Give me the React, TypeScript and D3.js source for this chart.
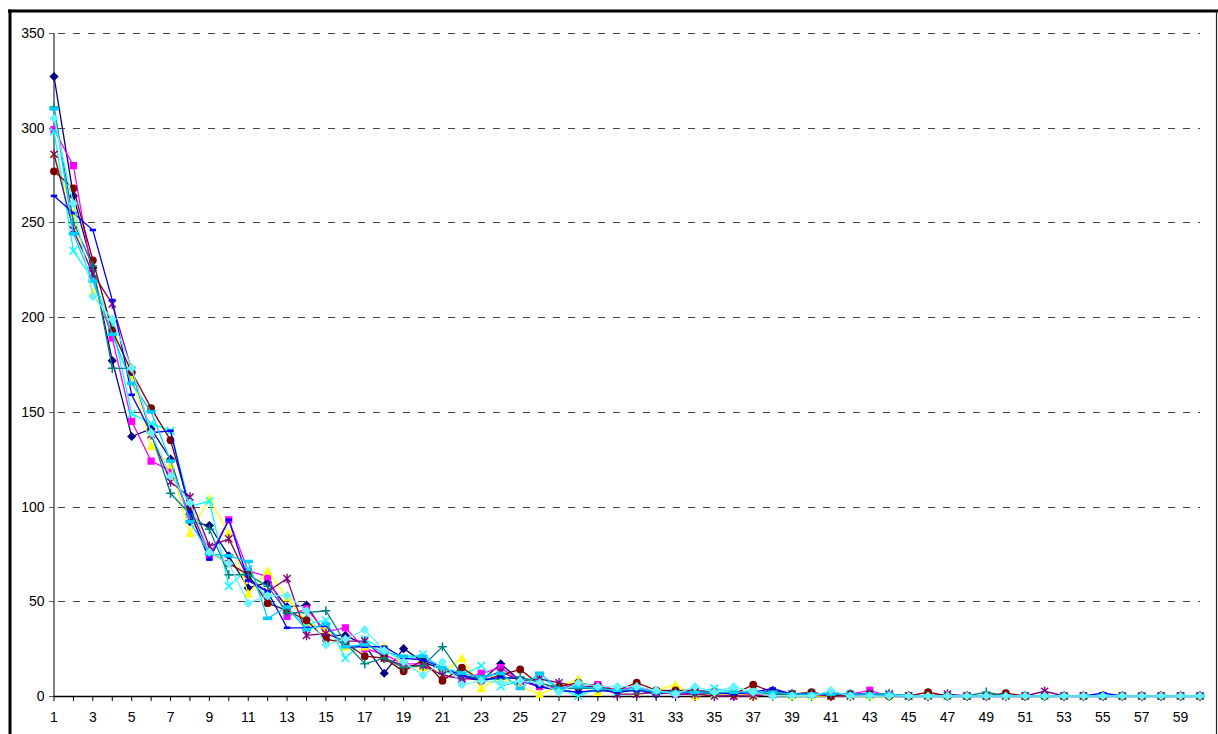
import React from "react";
import * as d3 from "d3";

const categories: number[] = d3.range(1, 61);
const yTicks: number[] = [0, 50, 100, 150, 200, 250, 300, 350];

const s1 = [327,264,226,177,137,141,125,92,90,74, 57,60,47,48,32,32,27,12,25,18, 14,10,8,17,8,5,3,2,3,2, 3,1,2,1,1,1,1,3,1,1, 0,1,1,0,0,0,0,0,0,0, 0,0,0,0,0,0,0,0,0,0];
const s2 = [299,280,220,189,145,124,119,96,74,93, 66,63,42,46,34,36,25,22,17,17, 11,9,12,15,8,5,4,6,6,3, 5,2,1,1,1,0,1,1,1,1, 0,1,3,0,0,0,0,0,0,0, 0,0,0,0,0,0,0,0,0,0];
const s3 = [286,255,213,195,169,132,122,86,104,86, 54,66,52,39,35,26,26,26,16,15, 12,20,4,10,5,1,5,9,2,3, 2,3,6,0,1,1,0,1,0,0, 0,0,0,0,0,0,0,0,0,0, 0,0,0,0,0,0,0,0,0,0];
const s4 = [298,235,220,196,149,144,140,100,103,58, 67,50,45,38,40,20,30,24,19,22, 13,11,16,5,8,10,4,0,4,2, 3,2,2,2,4,2,2,1,1,1, 1,1,1,1,0,0,0,0,0,0, 0,0,0,0,0,0,0,0,0,0];
const s5 = [286,246,223,207,172,138,113,105,79,83, 62,55,62,32,33,29,29,20,16,16, 11,9,9,13,8,9,7,5,5,1, 1,2,1,1,0,0,0,1,1,1, 0,0,1,1,0,0,1,0,0,0, 0,2.5,0,0,0,0,0,0,0,0];
const s6 = [277,268,230,193,171,152,135,99,76,70, 64,49,45,40,30,28,21,20,13,19, 8,15,8,11,14,6,5,7,5,3, 7,3,3,3,2,1,6,2,1,2, 0,1,1,0,0,2,0,0,0,1.5, 0,0,0,0,0,0,0,0,0,0];
const s7 = [311,250,227,173,173,139,107,96,88,64, 64,58,44,44,45,28,17,20,15,16, 26,11,9,9,10,7,4,4,4,3, 3,2,2,2,1,2,2,1,1,1, 1,1,1,1,0,0,0,0,2,0, 0,0,0,0,0,0,0,0,0,0];
const s8 = [264,255,246,209,159,139,140,97,72,93, 61,55,36,36,37,26,26,26,20,19, 15,11,8,10,9,5,3,2,3,2, 3,2,2,2,2,1,2,4,1,1, 1,1,1,0,0,0,0,0,0,0, 0,0,0,0,1.5,0,0,0,0,0];
const s9 = [310,244,219,191,165,150,124,92,75,74, 71,41,47,35,38,26,27,23,21,21, 15,12,10,12,4,12,4,5,4,3, 4,2,2,2,2,2,2,2,1,1, 1,1,1,1,0,0,0,0,0,0, 0,0,0,0,0,0,0,0,0,0];
const s10 = [305,260,211,199,173,139,116,102,76,70, 49,53,53,45,27,30,35,24,18,11, 18,6,8,7,8,7,2,7,5,5, 5,3,1,5,2,5,2,0,0,0, 3,0,0,0,0,0,0,0,0,0, 0,0,0,0,0,0,0,0,0,0];

const seriesValues = [s1, s2, s3, s4, s5, s6, s7, s8, s9, s10];
const seriesColors = ["#000080", "#FF00FF", "#FFFF00", "#00FFFF", "#800080", "#800000", "#008080", "#0000FF", "#00CCFF", "#66F2FF"];
const seriesMarkers = ["diamond", "square", "triangle", "x", "star", "circle", "plus", "dash", "bar", "diamond"];

const W = 1218;
const H = 734;
const plotLeft = 54;
const plotRight = 1200;
const plotTop = 33;
const plotBottom = 696;
const font = "'Liberation Sans', Arial, sans-serif";

function Marker({ type, color, x, y }: { type: string; color: string; x: number; y: number }) {
  const t = `translate(${x},${y})`;
  switch (type) {
    case "diamond":
      return <path transform={t} d="M0,-4.6L4.6,0L0,4.6L-4.6,0Z" fill={color} />;
    case "square":
      return <rect transform={t} x={-3.6} y={-3.6} width={7.2} height={7.2} fill={color} />;
    case "triangle":
      return <path transform={t} d="M0,-4.8L4.6,3.8L-4.6,3.8Z" fill={color} />;
    case "x":
      return <path transform={t} d="M-3.8,-3.8L3.8,3.8M-3.8,3.8L3.8,-3.8" stroke={color} strokeWidth={1.5} fill="none" />;
    case "star":
      return <path transform={t} d="M-3.6,-3.6L3.6,3.6M-3.6,3.6L3.6,-3.6M0,-4.8L0,4.8" stroke={color} strokeWidth={1.4} fill="none" />;
    case "circle":
      return <circle cx={x} cy={y} r={3.9} fill={color} />;
    case "plus":
      return <path transform={t} d="M-4.4,0L4.4,0M0,-4.6L0,4.6" stroke={color} strokeWidth={1.5} fill="none" />;
    case "dash":
      return <rect transform={t} x={-3.2} y={-1.3} width={6.4} height={2.6} fill={color} />;
    case "bar":
      return <rect transform={t} x={-4.6} y={-1.8} width={9.2} height={3.6} fill={color} />;
    default:
      return null;
  }
}

export default function App() {
  const x = d3.scalePoint<number>().domain(categories).range([plotLeft, plotRight]);
  const y = d3.scaleLinear().domain([0, 350]).range([plotBottom, plotTop]);
  const line = d3
    .line<number>()
    .x((_, i) => x(categories[i]) as number)
    .y((d) => y(d));

  return (
    <svg
      width={W}
      height={H}
      style={{ position: "absolute", left: 0, top: 0, background: "#fff" }}
      fontFamily={font}
    >
      <rect x={0} y={0} width={W} height={H} fill="#fff" />
      {/* frame */}
      <line x1={8} x2={W} y1={11} y2={11} stroke="#000" strokeWidth={3} />
      <line x1={10} x2={10} y1={9.5} y2={H} stroke="#000" strokeWidth={3} />
      <line x1={1216.5} x2={1216.5} y1={11} y2={H} stroke="#222" strokeWidth={1.2} />

      {/* gridlines */}
      {yTicks.filter((t) => t > 0).map((t) => (
        <line
          key={"g" + t}
          x1={plotLeft + 1}
          x2={plotRight}
          y1={Math.round(y(t)) + 0.5}
          y2={Math.round(y(t)) + 0.5}
          stroke="#444"
          strokeWidth={1}
          strokeDasharray="7,8"
          strokeDashoffset={-3}
        />
      ))}

      {/* y axis */}
      <line x1={plotLeft} x2={plotLeft} y1={plotTop} y2={plotBottom} stroke="#808080" strokeWidth={2} />
      {yTicks.map((t) => (
        <g key={"yt" + t}>
          <line x1={plotLeft - 5} x2={plotLeft} y1={Math.round(y(t)) + 0.5} y2={Math.round(y(t)) + 0.5} stroke="#555" strokeWidth={1} />
          <text x={44.5} y={y(t) + 5} textAnchor="end" fontSize={14} fill="#000">
            {t}
          </text>
        </g>
      ))}

      {/* x axis */}
      <line x1={plotLeft} x2={plotRight} y1={plotBottom + 0.5} y2={plotBottom + 0.5} stroke="#000" strokeWidth={1.5} />
      {categories.map((c) => (
        <line
          key={"xt" + c}
          x1={x(c) as number}
          x2={x(c) as number}
          y1={plotBottom}
          y2={plotBottom + 5}
          stroke="#000"
          strokeWidth={1}
        />
      ))}
      {categories
        .filter((c) => c % 2 === 1)
        .map((c) => (
          <text key={"xl" + c} x={x(c) as number} y={722} textAnchor="middle" fontSize={14} fill="#000">
            {c}
          </text>
        ))}

      {/* series */}
      {seriesValues.map((vals, si) => (
        <g key={"s" + si}>
          <path d={line(vals) || ""} fill="none" stroke={seriesColors[si]} strokeWidth={1.3} />
          {vals.map((v, i) => (
            <Marker key={i} type={seriesMarkers[si]} color={seriesColors[si]} x={x(categories[i]) as number} y={y(v)} />
          ))}
        </g>
      ))}
    </svg>
  );
}
